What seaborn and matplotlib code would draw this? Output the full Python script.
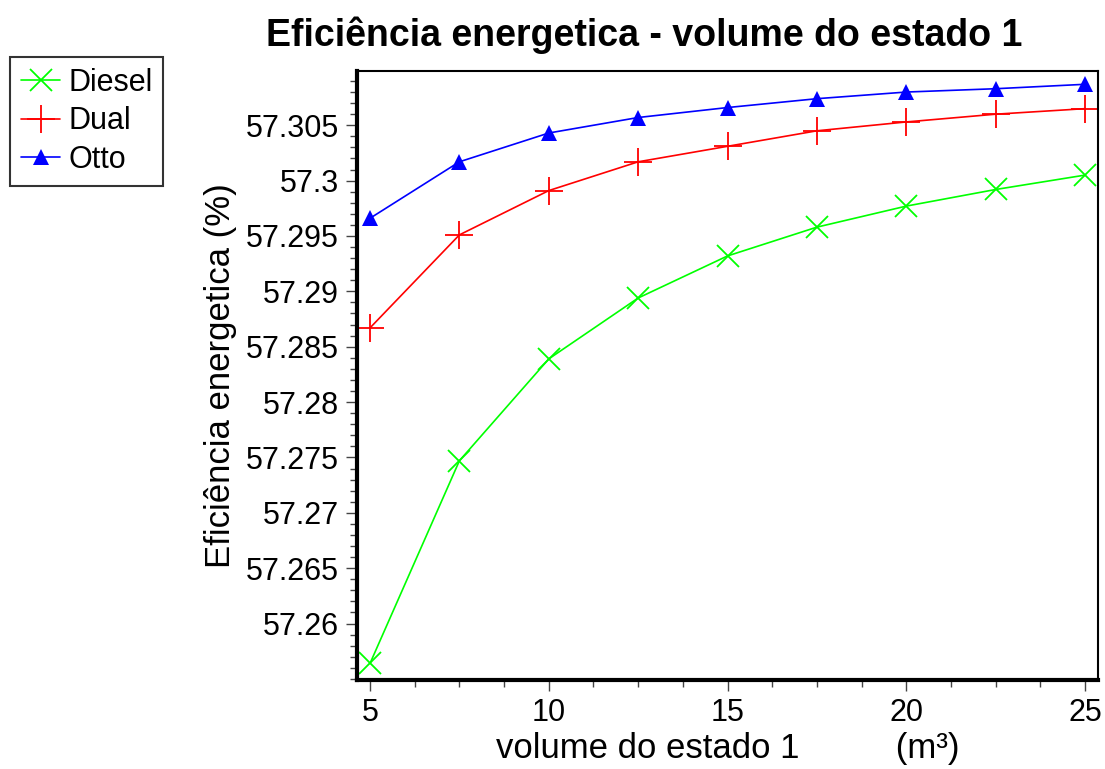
import matplotlib
matplotlib.use("Agg")
import matplotlib.pyplot as plt
import matplotlib.ticker as mticker
import seaborn as sns

volume = [5, 7.5, 10, 12.5, 15, 17.5, 20, 22.5, 25]
diesel = [57.2564, 57.2747, 57.2839, 57.2894, 57.2932, 57.2958, 57.2977, 57.2992, 57.3005]
dual = [57.2867, 57.2951, 57.2991, 57.3017, 57.3031, 57.3045, 57.3053, 57.3060, 57.3065]
otto = [57.2966, 57.3017, 57.3043, 57.3057, 57.3066, 57.3074, 57.3080, 57.3083, 57.3087]
series_names = ["Diesel", "Dual", "Otto"]
y_ticks = [57.26, 57.265, 57.27, 57.275, 57.28, 57.285, 57.29, 57.295, 57.3, 57.305]
x_ticks = [5, 10, 15, 20, 25]

sns.set_style("ticks")
plt.rcParams['font.family'] = ['Liberation Sans', 'DejaVu Sans']
plt.rcParams['text.color'] = 'black'
plt.rcParams['axes.labelcolor'] = 'black'
plt.rcParams['xtick.labelcolor'] = 'black'
plt.rcParams['ytick.labelcolor'] = 'black'

fig = plt.figure(figsize=(11.05, 7.69), dpi=100)
ax = fig.add_axes([357/1105, 1-680/769, (1098-357)/1105, (680-71)/769])

styles = {
    "Diesel": dict(color="#00ff00", marker="x", markersize=16, mew=1.3, lw=1.2),
    "Dual": dict(color="#ff0000", marker="+", markersize=20, mew=1.3, lw=1.2),
    "Otto": dict(color="#0000ff", marker="^", markersize=12, mew=0, lw=1.2),
}
for name, vals in zip(series_names, [diesel, dual, otto]):
    st = styles[name]
    sns.lineplot(x=volume, y=vals, ax=ax, color=st["color"], marker=st["marker"],
                 markersize=st["markersize"], markeredgewidth=st["mew"],
                 markeredgecolor=st["color"], linewidth=st["lw"], label=name,
                 legend=False)

ax.set_xlim(4.636, 25.36)
ax.set_ylim(57.2549, 57.3099)
ax.set_xticks(x_ticks)
ax.set_yticks(y_ticks)
ax.xaxis.set_minor_locator(mticker.MultipleLocator(1.25))
ax.yaxis.set_minor_locator(mticker.MultipleLocator(0.001))
ax.yaxis.set_major_formatter(mticker.FuncFormatter(lambda v, p: f"{v:g}"))
ax.tick_params(axis="both", which="major", labelsize=22, length=8, width=1, color="#444444",
               pad=5, labelcolor="black")
ax.tick_params(axis="both", which="minor", length=5, width=1, color="#444444")

for s in ["left", "bottom"]:
    ax.spines[s].set_linewidth(3)
    ax.spines[s].set_color("black")
for s in ["top", "right"]:
    ax.spines[s].set_linewidth(1.5)
    ax.spines[s].set_color("black")
    ax.spines[s].set_visible(True)

ax.set_xlabel("volume do estado 1          (m³)", fontsize=25, labelpad=3, color="black")
ax.set_ylabel("Eficiência energetica (%)", fontsize=25, labelpad=6, color="black")

fig.text(644/1105, 1-35/769, "Eficiência energetica - volume do estado 1",
         ha="center", va="center", fontsize=27, fontweight="bold", color="black")

handles, labels = ax.get_legend_handles_labels()
leg = fig.legend(handles, labels, loc="upper left", bbox_to_anchor=(10/1105, 1-57/769),
                 frameon=True, fancybox=False, edgecolor="black", fontsize=22,
                 handlelength=1.3, handletextpad=0.25, borderpad=0.35, labelspacing=0.28,
                 borderaxespad=0)
leg.get_frame().set_linewidth(1.5)
for t in leg.get_texts():
    t.set_color("black")

fig.savefig("out.png", dpi=100)
